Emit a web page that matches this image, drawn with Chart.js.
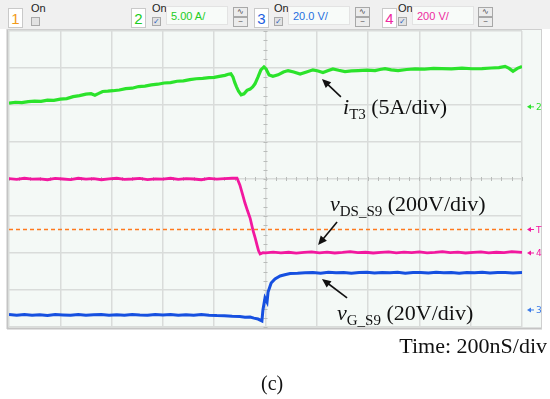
<!DOCTYPE html>
<html>
<head>
<meta charset="utf-8">
<script src="https://cdn.jsdelivr.net/npm/chart.js@4"></script>
<style>
  html,body{margin:0;padding:0;background:#fff;}
  #wrap{position:relative;width:550px;height:399px;overflow:hidden;background:#fff;}
  #c{position:absolute;left:0;top:0;}
  #bar{position:absolute;left:0;top:0;width:550px;height:29px;background:#f0f0f0;font-family:"Liberation Sans",Arial,sans-serif;}
  .box{position:absolute;top:8px;width:13px;height:18px;background:#fff;border:1px solid #c9c9c9;font-size:15px;text-align:center;line-height:20px;}
  .on{position:absolute;top:3px;font-size:11px;color:#222;line-height:11px;}
  .cb{position:absolute;top:17px;width:7px;height:7px;border:1px solid #a9a9a9;background:#e2e2e2;font-size:8px;line-height:7px;text-align:center;color:#2a5fc0;}
  .field{position:absolute;top:6px;height:19px;width:62px;background:#f8fbf9;border:1px solid #e3e3e3;font-size:11px;line-height:19px;padding-left:4px;box-sizing:border-box;}
  .btn{position:absolute;width:13px;height:8px;border:1px solid #a8a8a8;background:#ececec;font-size:8px;line-height:8px;text-align:center;color:#444;}
  .ann{position:absolute;font-family:"Liberation Serif","Times New Roman",serif;font-size:22px;line-height:22px;color:#111;white-space:nowrap;}
  .ann i{font-style:italic;}
  .ann .s{font-size:15px;vertical-align:-5px;}
</style>
</head>
<body>
<div id="wrap">
  <canvas id="c" width="550" height="399"></canvas>
  <div id="bar">
    <div class="box" style="left:8px;color:#f29a1a">1</div>
    <div class="on" style="left:31px">On</div>
    <div class="cb" style="left:31px"></div>

    <div class="box" style="left:131px;color:#22cc22">2</div>
    <div class="on" style="left:152px">On</div>
    <div class="cb" style="left:152px">✓</div>
    <div class="field" style="left:166px;color:#22cc22">5.00 A/</div>
    <div class="btn" style="left:233px;top:7px">∿</div>
    <div class="btn" style="left:233px;top:17px">~</div>

    <div class="box" style="left:254px;color:#1f5fe0">3</div>
    <div class="on" style="left:274px">On</div>
    <div class="cb" style="left:274px">✓</div>
    <div class="field" style="left:288px;color:#1f6fe0">20.0 V/</div>
    <div class="btn" style="left:355px;top:7px">∿</div>
    <div class="btn" style="left:355px;top:17px">~</div>

    <div class="box" style="left:382px;color:#ee2aa0">4</div>
    <div class="on" style="left:398px">On</div>
    <div class="cb" style="left:398px">✓</div>
    <div class="field" style="left:412px;color:#ee2aa0">200 V/</div>
    <div class="btn" style="left:478px;top:7px">∿</div>
    <div class="btn" style="left:478px;top:17px">~</div>
  </div>

  <div class="ann" style="left:343px;top:96px"><i>i</i><span class="s">T3</span> (5A/div)</div>
  <div class="ann" style="left:330px;top:193px"><i>v</i><span class="s">DS_S9</span> (200V/div)</div>
  <div class="ann" style="left:337px;top:302px"><i>v</i><span class="s">G_S9</span> (20V/div)</div>
  <div class="ann" style="right:3px;top:335px;">Time: 200nS/div</div>
  <div class="ann" style="left:261px;top:372px;font-size:20px;">(c)</div>
</div>

<script>
// ---------------- DATA ----------------
// time axis: 10 divisions x 200 ns
const timeMin = 0, timeMax = 2000, timeStep = 200;
// channel scales (units per division) and zero-level offsets (divisions from screen centre)
const ch2PerDiv = 5,   ch2Offset = 1.95;   // A
const ch3PerDiv = 20,  ch3Offset = -3.54;  // V
const ch4PerDiv = 200, ch4Offset = -2.0;   // V
const triggerLevel = 127;                  // V on channel 4

// i_T3 (A)
const iT3Time = [0,25,50,75,100,125,150,175,200,225,250,275,300,320,335,350,365,385,405,430,455,480,505,530,555,580,605,630,655,680,705,730,755,780,800,820,842,855,865,873,880,887,895,905,916,928,940,950,959,971,982,994,1002,1014,1029,1049,1070,1088,1110,1135,1160,1185,1205,1224,1245,1263,1285,1310,1335,1361,1395,1427,1446,1466,1490,1517,1550,1583,1620,1655,1688,1725,1766,1805,1844,1880,1910,1934,1950,1965,1982,2000];
const iT3 = [0.50,0.62,0.58,0.70,0.76,0.74,0.90,0.88,1.04,1.12,1.38,1.52,1.72,1.78,1.58,1.82,2.08,2.12,2.18,2.28,2.46,2.52,2.74,2.80,2.96,3.06,3.22,3.28,3.46,3.52,3.68,3.80,3.86,3.94,3.98,4.12,4.26,4.40,4.46,4.05,3.30,2.70,2.10,1.62,1.76,2.23,2.40,2.70,3.11,4.05,5.00,5.40,5.13,4.32,4.12,4.32,4.70,4.90,4.70,4.42,4.70,5.00,4.85,4.63,4.90,5.13,4.95,4.77,4.85,4.90,4.96,4.90,5.05,5.17,5.00,4.90,5.05,5.13,5.10,5.20,5.17,5.12,5.23,5.15,5.17,5.25,5.30,5.47,5.20,4.80,5.20,5.44];

// v_DS_S9 (V)
const vDSTime = [0,30,60,90,120,150,180,210,240,270,300,330,360,390,420,450,480,510,540,570,600,630,660,690,720,750,780,810,840,870,889,900,910,920,930,940,951,960,967,973,979,990,1000,1030,1060,1090,1120,1150,1180,1210,1240,1270,1300,1330,1360,1390,1420,1450,1480,1510,1540,1570,1600,1630,1660,1690,1720,1750,1780,1810,1840,1870,1900,1930,1960,2000];
const vDS = [402,398,404,399,401,396,403,400,397,404,399,402,396,401,404,398,400,403,397,401,399,404,398,402,400,396,403,399,402,404,405,368,320,270,228,189,124,80,43,12,-5,2,1,5,1,4,-1,3,6,1,5,0,3,7,2,4,0,3,6,1,5,2,6,1,3,7,2,5,0,3,6,1,4,2,7,3];

// v_G_S9 (V)
const vGTime = [0,30,60,90,120,150,180,210,240,270,300,330,360,390,420,450,480,510,540,570,600,630,660,690,720,750,780,810,840,870,900,920,940,955,971,986,990,998,1006,1010,1022,1037,1057,1075,1096,1125,1154,1185,1215,1245,1275,1305,1335,1365,1395,1425,1455,1485,1515,1545,1575,1605,1635,1665,1695,1725,1755,1785,1815,1845,1875,1905,1935,1965,2000];
const vG = [-2.5,-2.9,-2.4,-2.8,-2.6,-3.0,-2.5,-2.7,-2.9,-2.4,-2.8,-2.6,-2.5,-2.9,-2.6,-2.8,-2.4,-2.7,-2.9,-2.5,-2.7,-2.4,-2.8,-2.6,-2.9,-2.5,-2.8,-3.0,-3.1,-3.4,-3.5,-3.9,-3.8,-4.4,-4.9,-5.9,0,6.5,4.3,9.7,14.6,16.8,18.4,19.0,19.7,19.8,20.1,20.3,19.9,20.4,20.1,20.3,19.9,20.2,20.4,20.0,20.3,20.1,20.4,19.9,20.2,20.3,20.0,20.4,20.1,20.2,19.9,20.3,20.1,20.4,20.0,20.2,20.3,20.0,20.2];

// ---------------- STYLE ----------------
const cGreen = '#2be32b', cPink = '#f2189f', cBlue = '#1650e0', cOrange = '#ff7a1e';
const gridColor = '#d9dcda';

function pts(t, v){ return t.map((x,i)=>({x:x, y:v[i]})); }
function axisRange(perDiv, offset){ return {min:(-4-offset)*perDiv, max:(4-offset)*perDiv}; }
const rI = axisRange(ch2PerDiv, ch2Offset), rG = axisRange(ch3PerDiv, ch3Offset), rV = axisRange(ch4PerDiv, ch4Offset);

const scopePlugin = {
  id:'scope',
  beforeDraw(chart){
    const ctx = chart.ctx;
    ctx.save();
    ctx.fillStyle = '#f4f9f6';
    ctx.fillRect(7, 29, 535, 300);
    ctx.strokeStyle = '#c4c4c4';
    ctx.lineWidth = 2;
    ctx.beginPath();
    ctx.moveTo(7.5, 29); ctx.lineTo(7.5, 329);
    ctx.moveTo(7, 328.5); ctx.lineTo(542, 328.5);
    ctx.stroke();
    ctx.lineWidth = 1;
    ctx.strokeStyle = '#cfcfcf';
    ctx.beginPath();
    ctx.moveTo(7, 29.5); ctx.lineTo(542, 29.5);
    ctx.moveTo(541.5, 29); ctx.lineTo(541.5, 329);
    ctx.stroke();
    ctx.restore();
  },
  beforeDatasetsDraw(chart){
    const ctx = chart.ctx, x = chart.scales.x, g = chart.scales.grid;
    const cx = x.getPixelForValue((timeMin+timeMax)/2), cy = g.getPixelForValue(0);
    ctx.save();
    ctx.strokeStyle = '#b9bcba';
    ctx.lineWidth = 1;
    ctx.beginPath();
    for(let d=-4; d<=4; d+=0.25){ const y = Math.round(g.getPixelForValue(d))+0.5; ctx.moveTo(cx-2, y); ctx.lineTo(cx+2, y); }
    for(let t=timeMin; t<=timeMax; t+=timeStep/5){ const px = Math.round(x.getPixelForValue(t))+0.5; ctx.moveTo(px, cy-2); ctx.lineTo(px, cy+2); }
    ctx.stroke();
    ctx.restore();
  },
  afterDraw(chart){
    const ctx = chart.ctx, s = chart.scales, a = chart.chartArea;
    ctx.save();
    const mk = (y, txt, col) => {
      ctx.fillStyle = col; ctx.strokeStyle = col; ctx.lineWidth = 1;
      const x0 = a.right + 5;
      ctx.beginPath(); ctx.moveTo(x0, y); ctx.lineTo(x0+4, y-2.5); ctx.lineTo(x0+4, y+2.5); ctx.closePath(); ctx.fill();
      ctx.beginPath(); ctx.moveTo(x0+4, y); ctx.lineTo(x0+7, y); ctx.stroke();
      ctx.font = '9px "DejaVu Sans", sans-serif'; ctx.textBaseline = 'middle';
      ctx.fillText(txt, x0+9, y+1);
    };
    mk(s.yI.getPixelForValue(0), '2', cGreen);
    mk(s.yV.getPixelForValue(triggerLevel), 'T', cPink);
    mk(s.yV.getPixelForValue(0), '4', cPink);
    mk(s.yG.getPixelForValue(0), '3', '#3a7ae8');
    const arrow = (ax, t0, v0, t1, v1) => {
      const x0 = s.x.getPixelForValue(t0), y0 = s[ax].getPixelForValue(v0);
      const x1 = s.x.getPixelForValue(t1), y1 = s[ax].getPixelForValue(v1);
      const ang = Math.atan2(y1-y0, x1-x0), L = 9, W = 4;
      ctx.strokeStyle = '#111'; ctx.fillStyle = '#111'; ctx.lineWidth = 1.6;
      ctx.beginPath(); ctx.moveTo(x0, y0); ctx.lineTo(x1 - Math.cos(ang)*L*0.8, y1 - Math.sin(ang)*L*0.8); ctx.stroke();
      ctx.beginPath();
      ctx.moveTo(x1, y1);
      ctx.lineTo(x1 - Math.cos(ang)*L + Math.sin(ang)*W, y1 - Math.sin(ang)*L - Math.cos(ang)*W);
      ctx.lineTo(x1 - Math.cos(ang)*L - Math.sin(ang)*W, y1 - Math.sin(ang)*L + Math.cos(ang)*W);
      ctx.closePath(); ctx.fill();
    };
    arrow('yI', 1294, 1.35, 1220, 3.78);
    arrow('yV', 1279, 168, 1205, 43);
    arrow('yG', 1318, 6.5, 1220, 16.8);
    ctx.restore();
  }
};

const gridOpts = {color:gridColor, lineWidth:1.5, drawTicks:false};

new Chart(document.getElementById('c'), {
  type:'line',
  data:{
    datasets:[
      {label:'iT3', data:pts(iT3Time, iT3), yAxisID:'yI', borderColor:cGreen, backgroundColor:cGreen, borderWidth:3.2, pointRadius:0, tension:0},
      {label:'vDS_S9', data:pts(vDSTime, vDS), yAxisID:'yV', borderColor:cPink, backgroundColor:cPink, borderWidth:2.8, pointRadius:0, tension:0},
      {label:'vG_S9', data:pts(vGTime, vG), yAxisID:'yG', borderColor:cBlue, backgroundColor:cBlue, borderWidth:3, pointRadius:0, tension:0},
      {label:'Trigger', data:[{x:timeMin,y:triggerLevel},{x:timeMax,y:triggerLevel}], yAxisID:'yV', borderColor:cOrange, backgroundColor:cOrange, borderWidth:1.5, borderDash:[4,3], pointRadius:0}
    ]
  },
  options:{
    responsive:false, animation:false, devicePixelRatio:1,
    layout:{padding:{left:9, right:28, top:31, bottom:72}},
    plugins:{legend:{display:false}, tooltip:{enabled:false}},
    scales:{
      x:{type:'linear', min:timeMin, max:timeMax, ticks:{stepSize:timeStep, display:false}, grid:gridOpts, border:{display:false}, afterFit(sc){ sc.height = 0; }},
      grid:{type:'linear', position:'left', min:-4, max:4, ticks:{stepSize:1, display:false}, grid:gridOpts, border:{display:false}, afterFit(sc){ sc.width = 0; }},
      yI:{type:'linear', display:false, min:rI.min, max:rI.max},
      yV:{type:'linear', display:false, min:rV.min, max:rV.max},
      yG:{type:'linear', display:false, min:rG.min, max:rG.max}
    }
  },
  plugins:[scopePlugin]
});
</script>
</body>
</html>
